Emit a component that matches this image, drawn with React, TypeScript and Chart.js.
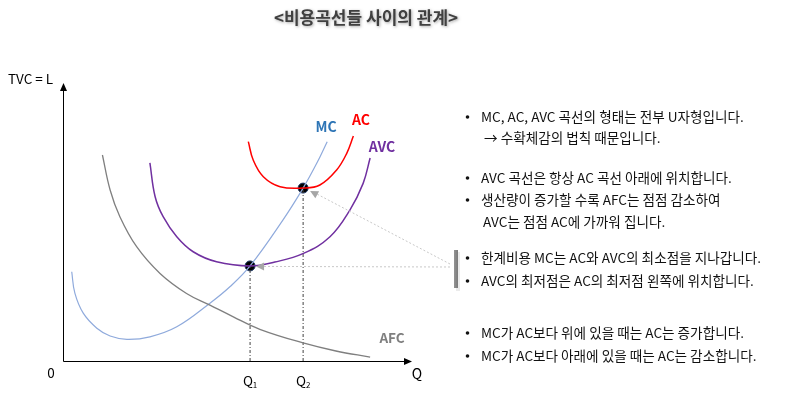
import React, { useEffect, useRef } from "react";
import { Chart, registerables } from "chart.js";

Chart.register(...registerables);

// Curve data (Q units 0..100, cost units 0..100)
const mcQ = [2.5, 3.4, 5.8, 9.7, 13.5, 18.3, 24.9, 32.6, 42.1, 47.9, 53.6, 63.0, 68.8, 72.7, 75.7];
const mcCost = [32.1, 24.4, 17.2, 11.8, 9.0, 7.8, 8.7, 12.3, 20.8, 26.8, 34.2, 50.7, 62.2, 71.1, 78.9];

const afcQ = [11.3, 13.5, 16.3, 21.1, 27.8, 35.4, 42.1, 48.8, 56.4, 68.8, 78.2, 88.0];
const afcCost = [74.1, 61.5, 51.9, 41.1, 31.5, 24.3, 20.1, 15.9, 11.4, 6.5, 3.6, 1.4];

const avcQ = [24.9, 26.4, 28.7, 32.6, 37.3, 44.0, 53.6, 60.7, 68.9, 76.5, 82.2, 86.0, 88.0];
const avcCost = [71.3, 59.1, 51.9, 44.7, 39.3, 35.7, 34.2, 35.6, 38.7, 44.7, 54.3, 63.9, 73.0];

const acQ = [53.1, 54.5, 57.4, 62.2, 68.8, 73.6, 78.4, 81.3, 83.2];
const acCost = [78.9, 72.3, 66.3, 62.7, 62.2, 63.3, 68.7, 74.7, 80.9];

// Minimum points: Q1 (AVC min), Q2 (AC min)
const qLevels = [53.6, 68.8];
const minCosts = [34.2, 62.2];
const qLabels = ["1", "2"];

const title = "<비용곡선들 사이의 관계>";
const yAxisTitle = "TVC = L";
const xAxisTitle = "Q";

const notes = [
  "MC, AC, AVC 곡선의 형태는 전부 U자형입니다.",
  "→ 수확체감의 법칙 때문입니다.",
  "AVC 곡선은 항상 AC 곡선 아래에 위치합니다.",
  "생산량이 증가할 수록 AFC는 점점 감소하여",
  "AVC는 점점 AC에 가까워 집니다.",
  "한계비용 MC는 AC와 AVC의 최소점을 지나갑니다.",
  "AVC의 최저점은 AC의 최저점 왼쪽에 위치합니다.",
  "MC가 AC보다 위에 있을 때는 AC는 증가합니다.",
  "MC가 AC보다 아래에 있을 때는 AC는 감소합니다.",
];
const noteBullet = [true, false, true, true, false, true, true, true, true];
const noteY = [117, 138, 178, 200, 222, 258, 281, 333, 356];
const noteX = [481, 484, 481, 481, 483, 481, 481, 481, 481];

const toPts = (xs: number[], ys: number[]) => xs.map((x, i) => ({ x, y: ys[i] }));

const KFONT = "'Noto Sans CJK KR', 'Noto Sans', sans-serif";

function arrowHead(ctx: CanvasRenderingContext2D, fx: number, fy: number, tx: number, ty: number, len: number, w: number, color: string) {
  const a = Math.atan2(ty - fy, tx - fx);
  ctx.save();
  ctx.fillStyle = color;
  ctx.beginPath();
  ctx.moveTo(tx, ty);
  ctx.lineTo(tx - len * Math.cos(a) + w * Math.sin(a), ty - len * Math.sin(a) - w * Math.cos(a));
  ctx.lineTo(tx - len * Math.cos(a) - w * Math.sin(a), ty - len * Math.sin(a) + w * Math.cos(a));
  ctx.closePath();
  ctx.fill();
  ctx.restore();
}

const decor = {
  id: "decor",
  afterDraw(chart: any) {
    const ctx: CanvasRenderingContext2D = chart.ctx;
    const xs = chart.scales.x;
    const ys = chart.scales.y;
    const x0 = xs.getPixelForValue(0);
    const y0 = ys.getPixelForValue(0);
    const xEnd = xs.getPixelForValue(100);
    const yEnd = ys.getPixelForValue(100);
    ctx.save();

    // axes
    ctx.strokeStyle = "#000";
    ctx.lineWidth = 1;
    ctx.beginPath();
    ctx.moveTo(x0 + 0.5, y0 + 0.5);
    ctx.lineTo(x0 + 0.5, yEnd + 6);
    ctx.moveTo(x0 + 0.5, y0 + 0.5);
    ctx.lineTo(xEnd - 6, y0 + 0.5);
    ctx.stroke();
    arrowHead(ctx, x0 + 0.5, y0, x0 + 0.5, yEnd, 8, 3.5, "#000");
    arrowHead(ctx, x0, y0 + 0.5, xEnd, y0 + 0.5, 8, 3.5, "#000");

    // axis texts
    ctx.fillStyle = "#000";
    ctx.textBaseline = "middle";
    ctx.textAlign = "left";
    ctx.font = `13.5px ${KFONT}`;
    ctx.fillText(yAxisTitle, 8, 79);
    ctx.textAlign = "center";
    ctx.fillText("0", 51, 373);
    ctx.font = `14px ${KFONT}`;
    ctx.fillText(xAxisTitle, xEnd + 5, 374);
    qLevels.forEach((q, i) => {
      const px = xs.getPixelForValue(q);
      ctx.font = `13.5px ${KFONT}`;
      ctx.textAlign = "center";
      ctx.fillText("Q", px - 2, 381);
      ctx.font = `8px ${KFONT}`;
      ctx.fillText(qLabels[i], px + 5, 385);
    });

    // curve labels
    ctx.font = `bold 14px ${KFONT}`;
    ctx.textAlign = "center";
    ctx.fillStyle = "#2E75B6";
    ctx.fillText("MC", 326, 127);
    ctx.fillStyle = "#FF0000";
    ctx.fillText("AC", 361, 120);
    ctx.fillStyle = "#7030A0";
    ctx.fillText("AVC", 382, 147);
    ctx.fillStyle = "#7F7F7F";
    ctx.font = `bold 13.5px ${KFONT}`;
    ctx.fillText("AFC", 392, 338);

    // pointer lines from the note bar to the minimum points
    const p1x = xs.getPixelForValue(qLevels[0]);
    const p1y = ys.getPixelForValue(minCosts[0]);
    const p2x = xs.getPixelForValue(qLevels[1]);
    const p2y = ys.getPixelForValue(minCosts[1]);
    ctx.strokeStyle = "#C8C8C8";
    ctx.lineWidth = 1;
    ctx.setLineDash([2, 2]);
    ctx.beginPath();
    ctx.moveTo(450, 267);
    ctx.lineTo(p1x + 12, p1y + 0.5);
    ctx.moveTo(450, 264);
    ctx.lineTo(p2x + 12, p2y + 5);
    ctx.stroke();
    ctx.setLineDash([]);
    arrowHead(ctx, 450, 267, p1x + 6, p1y + 0.5, 8, 4, "#A6A6A6");
    arrowHead(ctx, 450, 264, p2x + 7, p2y + 3, 8, 4, "#A6A6A6");

    // gray bar
    ctx.fillStyle = "rgba(0,0,0,0.08)";
    ctx.fillRect(456, 252, 4, 39);
    const g = ctx.createLinearGradient(453, 0, 458, 0);
    g.addColorStop(0, "#9a9a9a");
    g.addColorStop(1, "#7a7a7a");
    ctx.fillStyle = g;
    ctx.fillRect(454, 250, 4, 38);

    // notes
    ctx.fillStyle = "#111";
    ctx.textAlign = "left";
    ctx.font = `13.6px ${KFONT}`;
    notes.forEach((t, i) => {
      if (noteBullet[i]) {
        ctx.beginPath();
        ctx.arc(467.5, noteY[i], 1.8, 0, Math.PI * 2);
        ctx.fill();
      }
      ctx.fillText(t, noteX[i], noteY[i]);
    });

    // title with shadow
    ctx.save();
    ctx.font = `bold 17px ${KFONT}`;
    ctx.textAlign = "center";
    ctx.shadowColor = "rgba(0,0,0,0.35)";
    ctx.shadowBlur = 3;
    ctx.shadowOffsetX = 1;
    ctx.shadowOffsetY = 1;
    ctx.fillStyle = "#404040";
    ctx.fillText(title, 366, 18);
    ctx.restore();

    ctx.restore();
  },
};

export default function App() {
  const ref = useRef<HTMLCanvasElement>(null);
  useEffect(() => {
    document.body.style.margin = "0";
    const canvas = ref.current!;
    const curve = (label: string, data: any[], color: string, width: number) => ({
      type: "line" as const,
      label,
      data,
      borderColor: color,
      borderWidth: width,
      pointRadius: 0,
      fill: false,
      tension: 0.4,
    });
    const datasets: any[] = [
      curve("AFC", toPts(afcQ, afcCost), "#7F7F7F", 1.3),
      curve("AVC", toPts(avcQ, avcCost), "#7030A0", 1.5),
      curve("AC", toPts(acQ, acCost), "#FF0000", 1.5),
      curve("MC", toPts(mcQ, mcCost), "#8FAADC", 1.2),
      ...qLevels.map((q, i) => ({
        type: "line",
        label: "Q" + qLabels[i],
        data: [
          { x: q, y: 0 },
          { x: q, y: minCosts[i] },
        ],
        borderColor: "#404040",
        borderWidth: 1,
        borderDash: [3, 2, 1, 2],
        pointRadius: 0,
      })),
      {
        type: "scatter",
        label: "min",
        data: toPts(qLevels, minCosts),
        backgroundColor: "#000",
        borderColor: "#1F3864",
        borderWidth: 1,
        pointRadius: 5,
      },
    ];
    const chart = new Chart(canvas, {
      type: "line",
      data: { datasets },
      options: {
        animation: false,
        responsive: false,
        devicePixelRatio: 1,
        layout: { padding: { left: 63, top: 83, right: 388, bottom: 34 } },
        scales: {
          x: { type: "linear", min: 0, max: 100, display: false },
          y: { type: "linear", min: 0, max: 100, display: false },
        },
        plugins: { legend: { display: false }, tooltip: { enabled: false } },
      },
      plugins: [decor],
    });
    return () => chart.destroy();
  }, []);
  return (
    <div style={{ width: 800, height: 395, background: "#fff" }}>
      <canvas ref={ref} width={800} height={395} />
    </div>
  );
}
